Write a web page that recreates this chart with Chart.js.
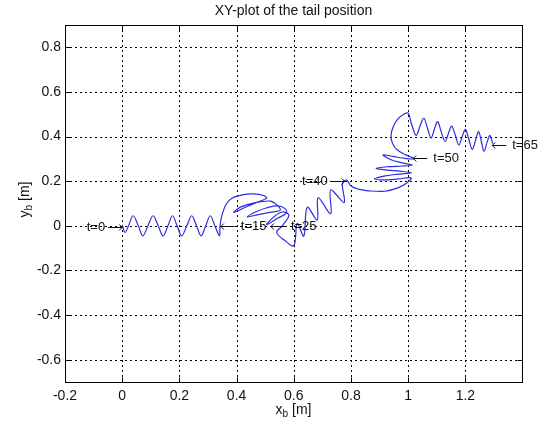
<!DOCTYPE html>
<html><head><meta charset="utf-8">
<script src="https://cdn.jsdelivr.net/npm/chart.js@4.4.1/dist/chart.umd.min.js"></script>
<style>html,body{margin:0;padding:0;background:#fff;}canvas{display:block;}</style>
</head><body>
<canvas id="c" width="551" height="430"></canvas>
<script>
// ---- data ----
const chartTitle = 'XY-plot of the tail position';
const xTicks = [-0.2, 0, 0.2, 0.4, 0.6, 0.8, 1, 1.2];
const yTicks = [-0.6, -0.4, -0.2, 0, 0.2, 0.4, 0.6, 0.8];
const xRange = [-0.2, 1.398];
const yRange = [-0.7, 0.9];

// straight swimming t=0..15
const waveX = [0.000,0.010,0.022,0.038,0.055,0.072,0.090,0.108,0.126,0.143,0.160,0.176,0.192,0.208,0.226,0.243,0.260,0.276,0.292,0.308,0.324,0.340];
const waveY = [0.005,-0.030,0.000,0.045,0.005,-0.045,0.000,0.045,0.000,-0.045,0.000,0.045,0.000,-0.045,0.000,0.045,0.000,-0.045,0.000,0.045,0.000,-0.045];
// first turn t=15..25
const turn1X = [0.342,0.349,0.364,0.385,0.420,0.460,0.494,0.505,0.470,0.430,0.390,0.415,0.459,0.518,0.540,0.553,0.515,0.475,0.437,0.470,0.506,0.545,0.568,0.575,0.545,0.505,0.530,0.559,0.583,0.560,0.540,0.568,0.600];
const turn1Y = [0.000,0.048,0.098,0.125,0.139,0.143,0.136,0.124,0.105,0.083,0.060,0.085,0.102,0.111,0.095,0.070,0.060,0.050,0.040,0.064,0.081,0.090,0.078,0.058,0.035,0.005,0.040,0.062,0.048,0.000,-0.030,-0.065,-0.089];
// diagonal swimming t=25..40
const climbX = [0.612,0.635,0.647,0.682,0.685,0.729,0.729,0.776,0.770,0.785];
const climbY = [0.011,-0.046,0.083,0.026,0.126,0.054,0.161,0.104,0.190,0.205];
// second turn t=40..50
const turn2X = [0.800,0.830,0.860,0.918,0.964,0.995,1.010,0.965,0.920,0.882,0.920,0.970,1.012,0.970,0.925,0.888,0.930,0.980,1.015,0.980,0.940,0.912,0.950,0.990,1.022,0.992,0.962,0.945,0.940,0.948,0.965,0.985,1.000];
const turn2Y = [0.178,0.163,0.157,0.155,0.170,0.192,0.215,0.210,0.206,0.210,0.224,0.232,0.238,0.245,0.250,0.258,0.265,0.268,0.272,0.282,0.296,0.318,0.310,0.302,0.300,0.318,0.340,0.370,0.405,0.445,0.480,0.500,0.505];
// straight swimming t=50..65
const cruiseX = [1.012,1.028,1.042,1.055,1.068,1.080,1.092,1.103,1.116,1.129,1.141,1.152,1.165,1.177,1.189,1.200,1.212,1.224,1.236,1.246,1.256,1.265,1.276,1.285,1.292,1.296];
const cruiseY = [0.455,0.405,0.450,0.482,0.435,0.393,0.435,0.467,0.420,0.378,0.415,0.447,0.405,0.362,0.400,0.432,0.388,0.342,0.385,0.422,0.378,0.334,0.375,0.405,0.385,0.368];

// time annotations
const labelText = ['t=0','t=15','t=25','t=40','t=50','t=65'];
const labelX = [0.000, 0.345, 0.520, 0.778, 1.018, 1.294];
const labelY = [-0.005, -0.003, -0.003, 0.200, 0.304, 0.363];
const labelArrow = ['right','left','left','right','left','left'];

// ---- build ----
const FONT = "'Liberation Sans', Arial, Helvetica, sans-serif";
const points = [];
[[waveX,waveY],[turn1X,turn1Y],[climbX,climbY],[turn2X,turn2Y],[cruiseX,cruiseY]]
  .forEach(([xs,ys]) => xs.forEach((v,i) => points.push({x:v, y:ys[i]})));

function fmt(v){ return String(Math.round(v*10)/10); }

const matlabAxes = {
  id: 'matlabAxes',
  beforeDatasetsDraw(chart){
    const {ctx, chartArea:a, scales:{x, y}} = chart;
    ctx.save();
    ctx.strokeStyle = '#000';
    ctx.lineWidth = 1;
    ctx.setLineDash([2,3]);
    xTicks.forEach(v => {
      const px = Math.round(x.getPixelForValue(v)) + 0.5;
      if (px <= a.left + 1 || px >= a.right - 1) return;
      ctx.beginPath(); ctx.moveTo(px, a.top); ctx.lineTo(px, a.bottom); ctx.stroke();
    });
    yTicks.forEach(v => {
      const py = Math.round(y.getPixelForValue(v)) + 0.5;
      if (py <= a.top + 1 || py >= a.bottom - 1) return;
      ctx.beginPath(); ctx.moveTo(a.left, py); ctx.lineTo(a.right, py); ctx.stroke();
    });
    ctx.restore();
  },
  afterDatasetsDraw(chart){
    const {ctx, chartArea:a, scales:{x, y}} = chart;
    ctx.save();
    // box
    ctx.strokeStyle = '#000'; ctx.lineWidth = 1; ctx.setLineDash([]);
    const L = Math.round(a.left)+0.5, R = Math.round(a.right)+0.5, T = Math.round(a.top)+0.5, B = Math.round(a.bottom)+0.5;
    ctx.strokeRect(L, T, R-L, B-T);
    // inward ticks
    const tl = 5;
    ctx.beginPath();
    xTicks.forEach(v => {
      const px = Math.round(x.getPixelForValue(v)) + 0.5;
      ctx.moveTo(px, B); ctx.lineTo(px, B - tl);
      ctx.moveTo(px, T); ctx.lineTo(px, T + tl);
    });
    yTicks.forEach(v => {
      const py = Math.round(y.getPixelForValue(v)) + 0.5;
      ctx.moveTo(L, py); ctx.lineTo(L + tl, py);
      ctx.moveTo(R, py); ctx.lineTo(R - tl, py);
    });
    ctx.stroke();

    // annotations: arrow + real text
    ctx.fillStyle = '#111';
    ctx.strokeStyle = '#111';
    ctx.textBaseline = 'middle';
    ctx.font = '13px ' + FONT;
    const aLen = 14, head = 3;
    labelText.forEach((t, i) => {
      const px = x.getPixelForValue(labelX[i]);
      const py = Math.round(y.getPixelForValue(labelY[i])) + 0.5;
      ctx.beginPath();
      if (labelArrow[i] === 'left') {
        ctx.moveTo(px + aLen, py); ctx.lineTo(px, py);
        ctx.moveTo(px + head, py - head); ctx.lineTo(px, py); ctx.lineTo(px + head, py + head);
        ctx.stroke();
        ctx.textAlign = 'left';
        ctx.fillText(t, px + 20, py);
      } else {
        ctx.moveTo(px - aLen, py); ctx.lineTo(px, py);
        ctx.moveTo(px - head, py - head); ctx.lineTo(px, py); ctx.lineTo(px - head, py + head);
        ctx.stroke();
        ctx.textAlign = 'right';
        ctx.fillText(t, px - 17, py);
      }
    });

    // title
    const cx = (a.left + a.right) / 2;
    ctx.textAlign = 'center';
    ctx.font = '14px ' + FONT;
    ctx.fillText(chartTitle, cx, 11);

    // axis labels with subscripts
    function subLabel(base, sub, rest, cxx, cyy){
      ctx.font = '14px ' + FONT;
      const w1 = ctx.measureText(base).width;
      const w3 = ctx.measureText(rest).width;
      ctx.font = '10px ' + FONT;
      const w2 = ctx.measureText(sub).width;
      const total = w1 + w2 + w3;
      const sx = cxx - total/2;
      ctx.textAlign = 'left';
      ctx.font = '14px ' + FONT;
      ctx.fillText(base, sx, cyy);
      ctx.font = '10px ' + FONT;
      ctx.fillText(sub, sx + w1, cyy + 4);
      ctx.font = '14px ' + FONT;
      ctx.fillText(rest, sx + w1 + w2, cyy);
    }
    subLabel('x', 'b', ' [m]', cx, 410);
    ctx.save();
    ctx.translate(25, (a.top + a.bottom)/2 - 4);
    ctx.rotate(-Math.PI/2);
    subLabel('y', 'b', ' [m]', 0, 0);
    ctx.restore();
    ctx.restore();
  }
};

new Chart(document.getElementById('c'), {
  type: 'scatter',
  data: { datasets: [{
    data: points,
    showLine: true,
    borderColor: 'rgb(45,45,225)',
    borderWidth: 1.2,
    pointRadius: 0,
    pointHoverRadius: 0,
    tension: 0.35,
    fill: false
  }]},
  options: {
    responsive: false,
    animation: false,
    devicePixelRatio: 1,
    layout: { padding: { left: 0, top: 25, right: 29, bottom: 0 } },
    plugins: { legend: { display: false }, tooltip: { enabled: false }, title: { display: false } },
    scales: {
      x: {
        type: 'linear', min: xRange[0], max: xRange[1],
        afterBuildTicks: s => { s.ticks = xTicks.map(v => ({value: v})); },
        afterFit: s => { s.height = 48; },
        grid: { display: false, drawTicks: false },
        border: { display: false },
        ticks: { autoSkip: false, maxRotation: 0, padding: 6, color: '#111',
                 font: { family: FONT, size: 14 }, callback: v => fmt(v) }
      },
      y: {
        type: 'linear', min: yRange[0], max: yRange[1],
        afterBuildTicks: s => { s.ticks = yTicks.map(v => ({value: v})); },
        afterFit: s => { s.width = 65; },
        grid: { display: false, drawTicks: false },
        border: { display: false },
        ticks: { autoSkip: false, padding: 4, color: '#111',
                 font: { family: FONT, size: 14 }, callback: v => fmt(v) }
      }
    }
  },
  plugins: [matlabAxes]
});
</script>
</body></html>
